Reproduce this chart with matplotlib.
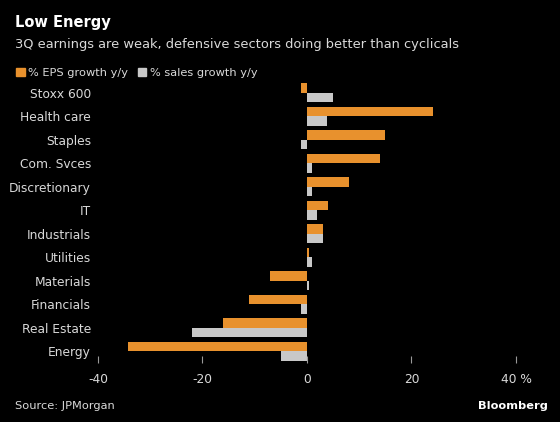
import matplotlib.pyplot as plt
from matplotlib.patches import Rectangle
import numpy as np

sectors = ["Stoxx 600", "Health care", "Staples", "Com. Svces", "Discretionary", "IT",
           "Industrials", "Utilities", "Materials", "Financials", "Real Estate", "Energy"]
eps_growth = [-1.1, 24.1, 14.9, 13.9, 8.0, 4.0, 3.0, 0.4, -7.1, -11.1, -16.0, -34.3]
sales_growth = [5.0, 3.9, -1.1, 1.0, 1.0, 2.0, 3.0, 1.0, 0.3, -1.1, -22.1, -5.0]
xticks = [-40, -20, 0, 20, 40]
xtick_labels = ["-40", "-20", "0", "20", "40 %"]

orange = "#e8912d"
grey = "#c8c8c8"
txt = "#d9d9d9"

fig = plt.figure(figsize=(5.6, 4.22), dpi=100, facecolor="black")
ax = fig.add_axes([0.175, 0.14, 0.793, 0.668], facecolor="black")

y = np.arange(len(sectors))
h = 0.41
ax.barh(y - h / 2, eps_growth, height=h, color=orange)
ax.barh(y + h / 2, sales_growth, height=h, color=grey)

ax.set_xlim(-40, 45)
ax.set_ylim(len(sectors) - 0.5, -0.5)
ax.set_yticks(y)
ax.set_yticklabels(sectors, color=txt, fontsize=8.8)
ax.tick_params(axis="y", length=0, pad=5)
ax.set_xticks(xticks)
ax.set_xticklabels(xtick_labels, color=txt, fontsize=8.8)
ax.tick_params(axis="x", length=5, color="#999999", direction="in", pad=7)
for s in ax.spines.values():
    s.set_visible(False)

fig.text(0.027, 0.935, "Low Energy", color="white", fontsize=10.5, fontweight="bold")
fig.text(0.027, 0.887, "3Q earnings are weak, defensive sectors doing better than cyclicals",
         color=txt, fontsize=9.4)
# legend
fig.patches.append(Rectangle((0.029, 0.82), 0.015, 0.02, transform=fig.transFigure, color=orange))
fig.text(0.05, 0.82, "% EPS growth y/y", color=txt, fontsize=8.2)
fig.patches.append(Rectangle((0.246, 0.82), 0.015, 0.02, transform=fig.transFigure, color=grey))
fig.text(0.267, 0.82, "% sales growth y/y", color=txt, fontsize=8.2)

fig.text(0.027, 0.03, "Source: JPMorgan", color=txt, fontsize=8.2)
fig.text(0.978, 0.03, "Bloomberg", color="white", fontsize=8.2, fontweight="bold", ha="right")

fig.savefig("out.png", dpi=100, facecolor="black")
